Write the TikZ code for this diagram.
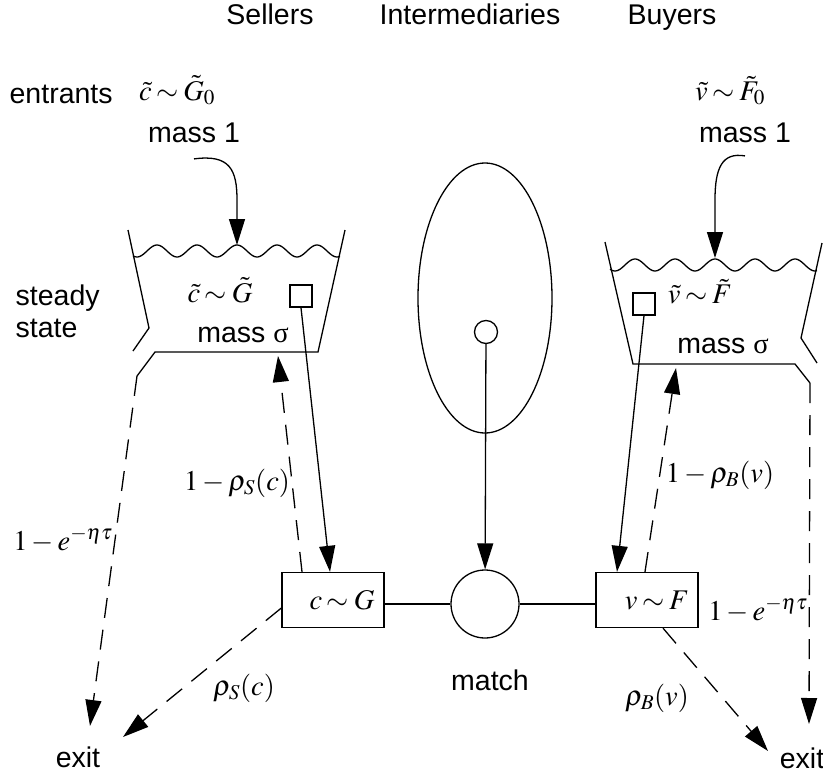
\documentclass[tikz,border=0pt]{standalone}
\usepackage{mathptmx}
\usepackage[no-math]{fontspec}
\setmainfont{Liberation Sans}
\newfontfamily\symfont{Liberation Serif}
\usetikzlibrary{arrows.meta,shapes.geometric}

\thickmuskip=3mu
\tikzset{
  txt/.style={font=\fontsize{28.5}{32}\selectfont, inner sep=0pt, anchor=base},
  distbox/.style={draw, minimum width=102pt, minimum height=55pt, inner sep=0pt, font=\fontsize{28.5}{32}\selectfont},
  unitbox/.style={draw, minimum size=22pt, inner sep=0pt},
  flow/.style={-{Triangle[length=26pt,width=16pt]}},
  leave/.style={flow, dash pattern=on 20pt off 12pt},
}

\begin{document}
\begin{tikzpicture}[x=1pt, y=-1pt, line width=1.3pt]
  \useasboundingbox (0,0) rectangle (823,779);
  \node[txt] (sellers) at (270,24) {Sellers};
  \node[txt] (interm) at (470,24) {Intermediaries};
  \node[txt] (buyers) at (672,24) {Buyers};
  \node[txt, anchor=base west] (entr) at (9,103) {entrants};
  \node[txt, anchor=north west, align=left] (steady) at (15,284) {steady\\state};

  % sellers
  \draw (128,230) -- (149,328) -- (133,351);
  \draw (137,376) -- (155,352) -- (318,352) -- (345,230);
  \draw plot[domain=133:340, samples=120, smooth] (\x,{251-6*cos(9*(\x-237))});
  \node[txt] (sent) at (177,100) {$\tilde c\sim\tilde G_0$};
  \node[txt] (smassone) at (194,142) {mass 1};
  \node[txt] (sdist) at (220,302) {$\tilde c\sim\tilde G$};
  \node[txt] (smass) at (243,342) {mass {\symfont σ}};
  \node[unitbox] (ssq) at (301,296) {};
  \coordinate (sdrop) at (237,245); \coordinate (sback) at (278,356);
  \coordinate (scorner) at (137,376);
  \coordinate (sexitA) at (90,726); \coordinate (sexitB) at (123,737);

  % buyers
  \draw (605,242) -- (633,364) -- (795,364) -- (810,383);
  \draw (817,363) -- (801,338) -- (822,243);
  \draw plot[domain=610:817, samples=120, smooth] (\x,{265-6*cos(9*(\x-715))});
  \node[txt] (bent) at (730,100) {$\tilde v\sim\tilde F_0$};
  \node[txt] (bmassone) at (745,142) {mass 1};
  \node[txt] (bdist) at (700,303) {$\tilde v\sim\tilde F$};
  \node[txt] (bmass) at (723,353) {mass {\symfont σ}};
  \node[unitbox] (bsq) at (644,304) {};
  \coordinate (bdrop) at (715,258); \coordinate (bback) at (676,368);
  \coordinate (bcorner) at (810,383);
  \coordinate (bexitA) at (809,724); \coordinate (bexitB) at (768,751);

  % intermediaries
  \node[draw, ellipse, minimum width=134pt, minimum height=270pt, inner sep=0pt] (pool) at (485,298) {};
  \node[draw, circle, minimum size=23pt, inner sep=0pt] (agent) at (486,332) {};
  \node[draw, circle, minimum size=68pt, inner sep=0pt] (match) at (485,604) {};
  \node[txt] (matchlbl) at (490,690) {match};

  \node[distbox] (sbox) at (333,600) {\hspace*{18pt}$c\sim G$};
  \node[distbox] (bbox) at (647,600) {\hspace*{20pt}$v\sim F$};
  \node[txt] (sexit) at (78,767) {exit};
  \node[txt] (bexit) at (802,768) {exit};

  \draw (sbox.east |- match.west) -- (match.west);
  \draw (match.east) -- (bbox.west |- match.east);
  \draw[flow] (agent) -- (match);
  \draw[flow] (ssq.south) -- ([xshift=-3pt]sbox.north);
  \draw[flow] (bsq.south) -- ([xshift=-30pt]bbox.north);
  \draw[flow] ([yshift=-16pt]smassone.south) .. controls (230,154) and (237,170) .. (237,200) -- (sdrop);
  \draw[flow] ([yshift=-13pt]bmassone.south) .. controls (722,152) and (715,168) .. (715,200) -- (bdrop);

  \draw[leave] ([xshift=-31pt]sbox.north) -- (sback);
  \draw[leave] (scorner) -- (sexitA);
  \draw[leave] ([yshift=-8pt]sbox.west) -- (sexitB);
  \draw[leave] ([xshift=-2pt]bbox.north) -- (bback);
  \draw[leave] (bcorner) -- (bexitA);
  \draw[leave] ([xshift=16pt]bbox.south) -- (bexitB);

  \node[txt] (srem) at (237,490) {$1-\rho_S(c)$};
  \node[txt] (sdie) at (63,550) {$1-e^{-\eta\tau}$};
  \node[txt] (smatch) at (244,695) {$\rho_S(c)$};
  \node[txt] (brem) at (720,482) {$1-\rho_B(v)$};
  \node[txt] (bdie) at (758,620) {$1-e^{-\eta\tau}$};
  \node[txt] (bmatch) at (657,705) {$\rho_B(v)$};
\end{tikzpicture}
\end{document}
